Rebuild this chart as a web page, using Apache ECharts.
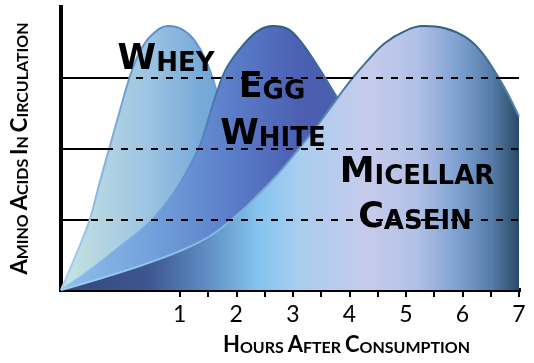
<!DOCTYPE html>
<html>
<head>
<meta charset="utf-8">
<script src="https://cdn.jsdelivr.net/npm/echarts@6/dist/echarts.min.js"></script>
<style>
html,body{margin:0;padding:0;background:#fff;}
#chart{width:534px;height:363px;}
</style>
</head>
<body>
<div id="chart"></div>
<script>
// ---- data ----
const hourLabels = [1, 2, 3, 4, 5, 6, 7];
const tickHours = [1, 1.5, 2, 2.5, 3, 3.5, 4, 4.5, 5, 5.5, 6, 6.5, 7];
const gridLevels = [1, 2, 3];
const seriesNames = ['Whey', 'Egg White', 'Micellar Casein'];
const labelLines = [['Whey'], ['Egg', 'White'], ['Micellar', 'Casein']];
const xAxisTitle = 'Hours After Consumption';
const yAxisTitle = 'Amino Acids in Circulation';

// [hours, relative amino acid level]
const wheyData = [[-1.1,0],[-0.84,0.49],[-0.59,1.0],[-0.42,1.51],[-0.24,2.02],[-0.06,2.53],[0.12,3.02],[0.29,3.36],[0.50,3.60],[0.79,3.73],[1.09,3.66],[1.35,3.42],[1.53,3.11],[1.67,2.76],[1.81,2.26],[1.99,1.55],[2.20,0.71],[2.42,0]];
const eggData = [[-1.1,0],[-0.59,0.28],[-0.06,0.61],[0.47,0.96],[0.91,1.39],[1.32,1.98],[1.50,2.40],[1.64,2.76],[1.83,3.14],[2.12,3.46],[2.38,3.66],[2.65,3.73],[2.91,3.69],[3.12,3.53],[3.37,3.25],[3.67,2.87],[3.92,2.52],[4.19,2.05],[4.54,1.27],[4.89,0.42],[5.07,0]];
const caseinData = [[-1.1,0],[-0.42,0.16],[0.29,0.34],[1.00,0.55],[1.53,0.76],[1.97,1.03],[2.38,1.34],[2.77,1.67],[3.12,2.01],[3.44,2.33],[3.74,2.66],[4.03,2.97],[4.33,3.25],[4.63,3.49],[4.98,3.66],[5.32,3.73],[5.69,3.70],[6.04,3.58],[6.31,3.39],[6.58,3.08],[6.81,2.76],[7.0,2.45]];

// ---- layout / style ----
const FONT = 'Lato';
const LABEL_FONT = 'DejaVu Sans';
function smallCaps(text, big, small) {
  return text.split(' ').map(w => '{' + big + '|' + w[0].toUpperCase() + '}{' + small + '|' + w.slice(1).toUpperCase() + '}').join('{' + small + '| }');
}
const lg = (stops, vertical) => new echarts.graphic.LinearGradient(0, 0, vertical ? 0 : 1, vertical ? 1 : 0, stops.map(s => ({offset: s[0], color: s[1]})));

const chart = echarts.init(document.getElementById('chart'), null, {renderer: 'canvas'});

// positions of the in-chart labels (center x, baseline y)
const labelPos = [[[166, 72]], [[272, 100], [273, 147]], [[417, 185], [415, 230]]];
const graphics = [];
labelLines.forEach((lines, i) => {
  lines.forEach((t, j) => {
    const p = labelPos[i][j];
    graphics.push({
      type: 'text', z: 50, x: p[0], y: p[1] + 5,
      style: {
        text: smallCaps(t, 'b', 's'),
        textAlign: 'center', textVerticalAlign: 'bottom',
        rich: {
          b: {fontSize: 35, lineHeight: 35, fontWeight: 'bold', fontFamily: LABEL_FONT, fill: '#000', verticalAlign: 'bottom'},
          s: {fontSize: 26, lineHeight: 26, fontWeight: 'bold', fontFamily: LABEL_FONT, fill: '#000', verticalAlign: 'bottom'}
        }
      }
    });
  });
});

const nameRich = {
  b: {fontSize: 22, lineHeight: 22, fontWeight: 'bold', fontFamily: FONT, color: '#000', verticalAlign: 'bottom'},
  s: {fontSize: 16, lineHeight: 16, fontWeight: 'bold', fontFamily: FONT, color: '#000', verticalAlign: 'bottom'}
};

const SMOOTH = 0.4;
const option = {
  animation: false,
  backgroundColor: '#fff',
  grid: {left: 61, right: 15, top: 7, bottom: 73, containLabel: false},
  xAxis: {
    type: 'value', min: -1.1, max: 7,
    name: smallCaps(xAxisTitle, 'b', 's'),
    nameLocation: 'middle', nameGap: 44,
    nameTextStyle: {rich: nameRich, padding: [0, 0, 0, 113]},
    axisLine: {show: true, onZero: false, lineStyle: {color: '#000', width: 4, cap: 'square'}},
    axisTick: {show: true, customValues: tickHours, length: 7, lineStyle: {color: '#000', width: 2}},
    axisLabel: {customValues: hourLabels, fontSize: 23, fontFamily: FONT, color: '#000', margin: 13},
    splitLine: {show: false}
  },
  yAxis: {
    type: 'value', min: 0, max: 4,
    name: smallCaps(yAxisTitle, 'b', 's'),
    nameLocation: 'middle', nameRotate: 90, nameGap: 30,
    nameTextStyle: {rich: nameRich},
    axisLine: {show: true, onZero: false, lineStyle: {color: '#000', width: 4, cap: 'square'}},
    axisTick: {show: false}, axisLabel: {show: false}, splitLine: {show: false}
  },
  graphic: graphics,
  series: [
    {
      type: 'line', name: 'grid-solid', data: [], z: 1, silent: true,
      markLine: {silent: true, z: 1, symbol: 'none', label: {show: false}, animation: false,
        lineStyle: {color: '#000', width: 2, type: 'solid'},
        emphasis: {disabled: true},
        data: gridLevels.map(v => ({yAxis: v}))}
    },
    {
      type: 'line', name: seriesNames[0], data: wheyData, z: 2, smooth: SMOOTH, showSymbol: false,
      lineStyle: {width: 2, color: lg([[0, '#5b8fcc'], [1, '#aad2f4']], true)},
      areaStyle: {opacity: 1, color: lg([[0, '#c8e4e0'], [0.19, '#b4d6e2'], [0.44, '#9cc4e2'], [0.7, '#78aad8'], [1, '#6a9ed2']])}
    },
    {
      type: 'line', name: seriesNames[1], data: eggData, z: 3, smooth: SMOOTH, showSymbol: false,
      lineStyle: {width: 2, color: lg([[0, '#2c5c82'], [0.5, '#5a8ac8'], [1, '#8cc4f0']], true)},
      areaStyle: {opacity: 1, color: lg([[0, '#8ec0ea'], [0.25, '#73a2dc'], [0.54, '#5676c4'], [0.68, '#4c60b2'], [1, '#4656a8']])}
    },
    {
      type: 'line', name: seriesNames[2], data: caseinData, z: 4, smooth: SMOOTH, showSymbol: false,
      lineStyle: {width: 2, color: lg([[0, '#2e5f80'], [0.5, '#6a9cc8'], [1, '#9ad0f4']], true)},
      areaStyle: {opacity: 1, color: lg([[0, '#34477e'], [0.19, '#3d5690'], [0.30, '#5a85bd'], [0.43, '#84c4ee'], [0.52, '#a9cdee'], [0.67, '#c6cbec'], [0.78, '#b0c0e6'], [0.87, '#7c9fd0'], [0.94, '#567ca8'], [1, '#284a68']])}
    },
    {
      type: 'line', name: 'grid-dashed', data: [], z: 60, silent: true,
      markLine: {silent: true, z: 60, symbol: 'none', label: {show: false}, animation: false,
        lineStyle: {color: '#000', width: 2, type: [7, 8]},
        emphasis: {disabled: true},
        data: gridLevels.map(v => ({yAxis: v}))}
    }
  ]
};
chart.setOption(option);
</script>
</body>
</html>
